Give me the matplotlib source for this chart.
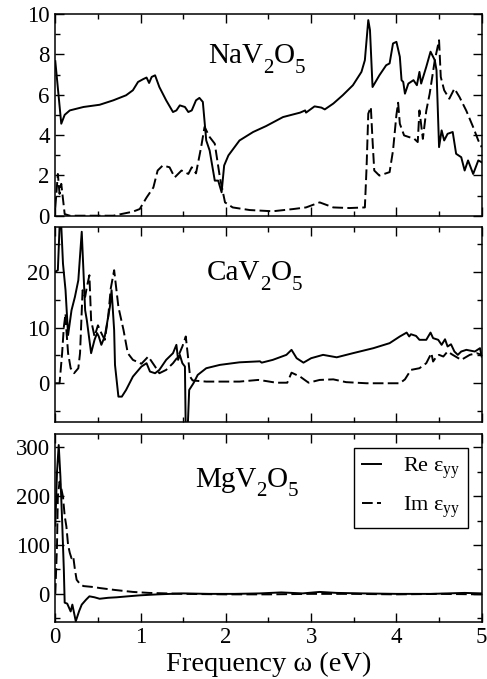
import matplotlib
matplotlib.use("Agg")
import matplotlib.pyplot as plt
from matplotlib.ticker import MultipleLocator
from matplotlib.transforms import offset_copy

plt.rcParams['font.family'] = ['Liberation Serif', 'DejaVu Serif']
plt.rcParams['mathtext.fontset'] = 'custom'
plt.rcParams['mathtext.rm'] = 'Liberation Serif'
plt.rcParams['mathtext.it'] = 'Liberation Serif:italic'

# ---------------- data ----------------
na_re_x = [0.0, 0.07, 0.11, 0.17, 0.33, 0.52, 0.68, 0.83, 0.91, 0.97, 1.03, 1.07, 1.10, 1.13, 1.17,
           1.22, 1.30, 1.38, 1.42, 1.46, 1.52, 1.56, 1.60, 1.65, 1.69, 1.73, 1.77, 1.81, 1.87, 1.91,
           1.95, 1.98, 2.03, 2.16, 2.32, 2.47, 2.67, 2.87, 2.93, 2.94, 3.04, 3.12, 3.16, 3.26, 3.37,
           3.49, 3.59, 3.63, 3.67, 3.69, 3.72, 3.80, 3.88, 3.92, 3.96, 4.00, 4.04, 4.06, 4.08, 4.10,
           4.14, 4.20, 4.24, 4.27, 4.29, 4.35, 4.40, 4.45, 4.47, 4.50, 4.53, 4.56, 4.60, 4.66, 4.70,
           4.76, 4.80, 4.84, 4.90, 4.96, 5.00]
na_re_y = [7.66, 4.56, 5.0, 5.22, 5.39, 5.5, 5.72, 5.97, 6.22, 6.63, 6.77, 6.85, 6.58, 6.88, 6.96,
           6.38, 5.72, 5.14, 5.22, 5.47, 5.39, 5.14, 5.22, 5.72, 5.84, 5.64, 3.73, 3.23, 1.74, 1.74,
           1.16, 2.49, 2.99, 3.73, 4.15, 4.44, 4.89, 5.11, 5.22, 5.11, 5.42, 5.36, 5.27, 5.56, 5.97,
           6.47, 7.13, 7.71, 9.7, 9.2, 6.38, 6.96, 7.46, 7.55, 8.54, 8.62, 7.88, 6.72, 6.63, 6.05,
           6.55, 6.72, 6.47, 7.13, 6.55, 7.38, 8.13, 7.71, 7.21, 3.4, 4.23, 3.73, 4.06, 4.15, 3.07,
           2.9, 2.24, 2.74, 2.07, 2.74, 2.65]

na_im_x = [0.0, 0.03, 0.05, 0.07, 0.11, 0.17, 0.68, 0.91, 0.99, 1.07, 1.15, 1.20, 1.26, 1.34, 1.40,
           1.48, 1.56, 1.60, 1.65, 1.71, 1.75, 1.81, 1.87, 1.93, 1.99, 2.08, 2.28, 2.55, 2.79, 2.94,
           3.10, 3.26, 3.45, 3.63, 3.65, 3.67, 3.70, 3.72, 3.74, 3.80, 3.92, 3.96, 4.00, 4.02, 4.04,
           4.09, 4.21, 4.25, 4.27, 4.31, 4.35, 4.39, 4.45, 4.50, 4.52, 4.56, 4.62, 4.68, 4.74, 4.82,
           4.90, 4.96, 5.00]
na_im_y = [0.4, 2.07, 1.08, 1.58, 0.08, 0.0, 0.0, 0.2, 0.33, 0.9, 1.4, 2.24, 2.49, 2.4, 1.9,
           2.24, 2.07, 2.4, 2.1, 3.4, 4.4, 3.9, 3.57, 1.9, 0.66, 0.41, 0.28, 0.22, 0.33, 0.41,
           0.66, 0.41, 0.38, 0.41, 2.4, 5.06, 5.39, 3.73, 2.24, 1.99, 2.16, 3.23, 5.0, 5.6, 4.56,
           3.98, 3.81, 3.65, 5.22, 3.81, 5.2, 6.05, 7.71, 8.7, 6.88, 6.22, 5.8, 6.3, 5.88, 5.2,
           4.39, 3.73, 3.4]

ca_re_x = [0.0, 0.03, 0.055, 0.065, 0.09, 0.12, 0.15, 0.19, 0.23, 0.27, 0.31, 0.35, 0.37, 0.42, 0.46,
           0.49, 0.51, 0.54, 0.58, 0.64, 0.66, 0.69, 0.70, 0.74, 0.78, 0.83, 0.91, 1.01, 1.07, 1.11,
           1.17, 1.22, 1.30, 1.38, 1.42, 1.44, 1.46, 1.49, 1.52, 1.53, 1.55, 1.57, 1.62, 1.67, 1.77,
           1.93, 2.16, 2.40, 2.42, 2.55, 2.71, 2.77, 2.83, 2.91, 3.00, 3.14, 3.30, 3.49, 3.73, 3.92,
           4.04, 4.12, 4.15, 4.17, 4.23, 4.27, 4.35, 4.40, 4.43, 4.49, 4.53, 4.57, 4.60, 4.64, 4.68,
           4.72, 4.76, 4.82, 4.92, 4.98, 5.00]
ca_re_y = [20.0, 20.3, 30.0, 30.0, 21.5, 16.7, 8.66, 13.1, 15.5, 18.5, 27.2, 13.1, 11.3, 5.4, 7.8,
           9.0, 8.4, 6.9, 8.4, 13.7, 16.7, 9.55, 3.3, -2.4, -2.4, -1.2, 1.2, 3.0, 3.6, 2.1,
           1.8, 2.4, 4.2, 5.4, 6.9, 4.2, 5.1, 3.6, 3.0, -9.0, -9.0, -1.2, 0.0, 1.5, 2.7,
           3.3, 3.76, 3.94, 3.7, 4.2, 5.1, 6.0, 4.5, 3.7, 4.5, 5.1, 4.66, 5.4, 6.3, 7.2,
           8.4, 9.1, 8.4, 8.8, 8.5, 7.8, 7.8, 9.1, 8.1, 7.8, 6.9, 7.9, 6.6, 7.0, 5.7,
           5.1, 5.7, 6.0, 5.7, 6.3, 4.8]

ca_im_x = [0.0, 0.05, 0.08, 0.10, 0.12, 0.13, 0.15, 0.18, 0.22, 0.27, 0.29, 0.32, 0.35, 0.37, 0.40,
           0.42, 0.46, 0.50, 0.54, 0.58, 0.62, 0.65, 0.69, 0.74, 0.80, 0.85, 0.91, 1.01, 1.09, 1.17,
           1.22, 1.30, 1.38, 1.44, 1.49, 1.53, 1.56, 1.58, 1.61, 1.77, 2.16, 2.38, 2.47, 2.59, 2.72,
           2.77, 2.87, 2.97, 3.10, 3.26, 3.41, 3.65, 4.04, 4.10, 4.17, 4.27, 4.35, 4.41, 4.43, 4.47,
           4.50, 4.55, 4.60, 4.66, 4.76, 4.86, 4.94, 5.00]
ca_im_y = [0.0, 0.0, 5.4, 10.1, 12.5, 9.55, 5.4, 2.7, 1.8, 2.7, 5.4, 16.7, 15.5, 17.3, 19.4,
           11.3, 8.4, 10.4, 9.0, 7.8, 11.9, 17.0, 20.3, 13.7, 9.55, 5.4, 4.2, 3.5, 4.8, 3.0,
           1.8, 2.4, 3.6, 4.8, 6.6, 8.4, 4.2, 1.2, 0.5, 0.3, 0.3, 0.6, 0.4, 0.1, 0.1,
           1.9, 1.2, 0.1, 0.6, 0.7, 0.2, 0.0, 0.0, 0.7, 2.4, 2.7, 3.6, 5.4, 3.9, 4.8,
           5.1, 4.8, 5.7, 5.1, 4.2, 5.1, 5.4, 5.1]

mg_re_x = [0.0, 0.02, 0.04, 0.06, 0.08, 0.10, 0.11, 0.14, 0.18, 0.20, 0.24, 0.28, 0.31, 0.36, 0.40,
           0.46, 0.52, 0.62, 0.72, 0.85, 0.99, 1.2, 1.5, 1.8, 2.1, 2.4, 2.65, 2.9, 3.1, 3.3,
           3.6, 4.0, 4.4, 4.8, 5.0]
mg_re_y = [140, 250, 305, 240, 150, 50, -18, -20, -36, -22, -56, -35, -22, -12, -5,
           -7, -10, -8, -7, -5, -3, -1, 1, 0, 0, 1, 3, 1, 4, 2,
           1, 0, 0, 2, 1]

mg_im_x = [0.0, 0.02, 0.03, 0.05, 0.07, 0.09, 0.11, 0.13, 0.15, 0.17, 0.19, 0.21, 0.23, 0.25, 0.29,
           0.33, 0.45, 0.52, 0.7, 0.91, 1.1, 1.5, 2.0, 2.5, 3.0, 3.5, 4.0, 4.5, 5.0]
mg_im_y = [0, 100, 200, 230, 216, 199, 160, 138, 100, 84, 73, 77, 50, 29, 20,
           16, 14, 12, 8, 4, 2, 0, -1, -1, 0, 0, -1, 0, -1]

# panel labels as (text, is_subscript) pieces
panel_names = [
    [('NaV', False), ('2', True), ('O', False), ('5', True)],
    [('CaV', False), ('2', True), ('O', False), ('5', True)],
    [('MgV', False), ('2', True), ('O', False), ('5', True)],
]
legend_labels = [r'Re ε$_{\rm yy}$', r'Im ε$_{\rm yy}$']
xlabel = 'Frequency ω (eV)'

# ---------------- figure ----------------
W, H = 487, 679
DPI = 100
fig = plt.figure(figsize=(W / DPI, H / DPI), dpi=DPI)
renderer = fig.canvas.get_renderer()

def box(l, t, r, b):
    return [l / W, 1 - b / H, (r - l) / W, (b - t) / H]

def rich_text(ax, x, y, pieces, fs, sub_scale=0.72, sub_drop=0.33):
    dx = 0.0
    for s, is_sub in pieces:
        size = fs * sub_scale if is_sub else fs
        dy = -sub_drop * fs if is_sub else 0.0
        tr = offset_copy(ax.transAxes, fig=fig, x=dx, y=dy, units='points')
        t = ax.text(x, y, s, transform=tr, ha='left', va='baseline', fontsize=size)
        w = t.get_window_extent(renderer).width * 72.0 / DPI
        dx += w

ax1 = fig.add_axes(box(55.3, 14.0, 481.7, 215.7))
ax2 = fig.add_axes(box(55.3, 227.3, 481.7, 421.7))
ax3 = fig.add_axes(box(55.3, 434.3, 481.7, 621.7))

lw = 1.4
dash = (0, (5.5, 2.2))
series = [
    (ax1, na_re_x, na_re_y, na_im_x, na_im_y, (0, 10), 2, 1, (0.358, 0.757)),
    (ax2, ca_re_x, ca_re_y, ca_im_x, ca_im_y, (-6.9, 28.0), 10, 5, (0.355, 0.729)),
    (ax3, mg_re_x, mg_re_y, mg_im_x, mg_im_y, (-57, 327), 100, 50, (0.328, 0.720)),
]

for i, (ax, rx, ry, ix, iy, ylim, maj, mnr, tpos) in enumerate(series):
    ax.plot(rx, ry, color='black', lw=lw, ls='-', label=legend_labels[0])
    ax.plot(ix, iy, color='black', lw=lw, ls=dash, label=legend_labels[1])
    ax.set_xlim(0, 5)
    ax.set_ylim(*ylim)
    ax.xaxis.set_major_locator(MultipleLocator(1))
    ax.xaxis.set_minor_locator(MultipleLocator(0.5))
    ax.yaxis.set_major_locator(MultipleLocator(maj))
    ax.yaxis.set_minor_locator(MultipleLocator(mnr))
    ax.tick_params(which='both', direction='in', top=True, right=True, width=1.0)
    ax.tick_params(which='major', length=6.5, labelsize=16.5, pad=4.0)
    ax.tick_params(which='minor', length=3.5)
    for s in ax.spines.values():
        s.set_linewidth(1.1)
    rich_text(ax, tpos[0], tpos[1], panel_names[i], 21)
    if i < 2:
        ax.tick_params(labelbottom=False)
    else:
        ax.set_xlabel(xlabel, fontsize=20.5, labelpad=2.5)
        leg = ax.legend(loc='upper right', fontsize=16, frameon=True, fancybox=False,
                        edgecolor='black', framealpha=1, handlelength=0.85,
                        handletextpad=1.0, labelspacing=0.6, borderaxespad=0.6,
                        borderpad=0.35)
        leg.get_frame().set_linewidth(1.0)

fig.savefig('out.png', dpi=DPI)
